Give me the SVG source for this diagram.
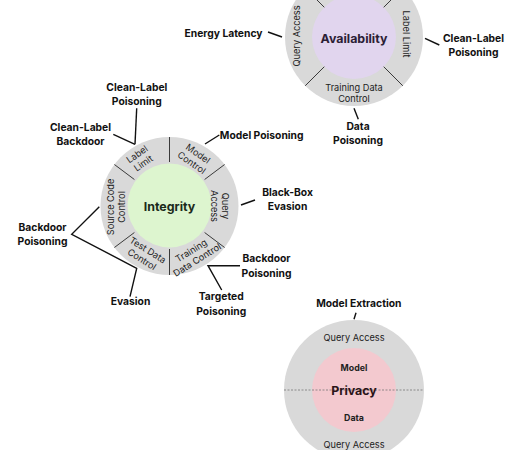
<svg xmlns="http://www.w3.org/2000/svg" width="530" height="450" viewBox="0 0 530 450">
<style>
.outer{fill:#d9d9d9}
.div{stroke:#3a3a3a;stroke-width:1}
.seg{font-family:Inter,"Liberation Sans",sans-serif;font-size:9.2px;fill:#222;text-anchor:middle;dominant-baseline:central}
.lbl{font-family:Inter,"Liberation Sans",sans-serif;font-size:10.3px;font-weight:700;fill:#111;text-anchor:middle;dominant-baseline:central}
.title{font-family:Inter,"Liberation Sans",sans-serif;font-size:12.4px;font-weight:700;text-anchor:middle;dominant-baseline:central}
.sub{font-family:Inter,"Liberation Sans",sans-serif;font-size:8.8px;font-weight:700;fill:#222;text-anchor:middle;dominant-baseline:central}
.con{stroke:#111;stroke-width:1.4;fill:none}
</style>
<rect width="530" height="450" fill="#ffffff"/>

<g id="availability">
<circle class="outer" cx="354" cy="37" r="69"/>
<circle cx="354" cy="37" r="42" fill="#e1d5ee"/>
<line class="div" x1="324.3" y1="7.3" x2="305.2" y2="-11.8"/>
<line class="div" x1="383.7" y1="7.3" x2="402.8" y2="-11.8"/>
<line class="div" x1="324.3" y1="66.7" x2="305.2" y2="85.8"/>
<line class="div" x1="383.7" y1="66.7" x2="402.8" y2="85.8"/>
<text class="title" x="354" y="38" fill="#2b2035">Availability</text>
<text class="seg" transform="translate(296,36) rotate(-90)">Query Access</text>
<text class="seg" transform="translate(406,34) rotate(90)">Label Limit</text>
<text class="seg" x="354" y="87">Training Data</text>
<text class="seg" x="354" y="98.5">Control</text>
</g>

<g id="integrity">
<circle class="outer" cx="169.5" cy="206" r="69"/>
<circle cx="169.5" cy="205.5" r="42" fill="#ddf5cf"/>
<line class="div" x1="169.5" y1="162" x2="169.5" y2="137"/>
<line class="div" x1="169.5" y1="249" x2="169.5" y2="275"/>
<line class="div" x1="204.6" y1="179.5" x2="224.6" y2="164.5"/>
<line class="div" x1="204.6" y1="232.5" x2="224.6" y2="247.5"/>
<line class="div" x1="134.4" y1="232.5" x2="114.4" y2="247.5"/>
<line class="div" x1="134.4" y1="179.5" x2="114.4" y2="164.5"/>
<text class="title" x="169.5" y="206" fill="#1b2a1b">Integrity</text>
<g transform="translate(140,158.5) rotate(-35)">
<text class="seg" x="0" y="-5.5">Label</text>
<text class="seg" x="0" y="5.5">Limit</text>
</g>
<g transform="translate(195,158) rotate(35)">
<text class="seg" x="0" y="-5.5">Model</text>
<text class="seg" x="0" y="5.5">Control</text>
</g>
<g transform="translate(219.5,206) rotate(90)">
<text class="seg" x="0" y="-5.5">Query</text>
<text class="seg" x="0" y="5.5">Access</text>
</g>
<g transform="translate(194,255) rotate(-32)">
<text class="seg" x="0" y="-5.5">Training</text>
<text class="seg" x="0" y="5.5">Data Control</text>
</g>
<g transform="translate(145,254.5) rotate(32)">
<text class="seg" x="0" y="-5.5">Test Data</text>
<text class="seg" x="0" y="5.5">Control</text>
</g>
<g transform="translate(115.5,207) rotate(-90)">
<text class="seg" x="0" y="-5.5">Source Code</text>
<text class="seg" x="0" y="5.5">Control</text>
</g>
</g>

<g id="privacy">
<circle class="outer" cx="354" cy="390" r="70"/>
<circle cx="354" cy="390" r="42" fill="#f3c9cf"/>
<line x1="284" y1="390" x2="424" y2="390" stroke="#777" stroke-width="0.8" stroke-dasharray="2,1.5"/>
<text class="seg" x="354" y="337">Query Access</text>
<text class="sub" x="354" y="367">Model</text>
<text class="title" x="354" y="390" fill="#2a1418">Privacy</text>
<text class="sub" x="354" y="417">Data</text>
<text class="seg" x="354" y="444">Query Access</text>
</g>

<g id="labels">
<text class="lbl" x="223.5" y="33">Energy Latency</text>
<text class="lbl" x="473.5" y="38.3">Clean-Label</text>
<text class="lbl" x="473.5" y="52.3">Poisoning</text>
<text class="lbl" x="358" y="126">Data</text>
<text class="lbl" x="358" y="140">Poisoning</text>
<text class="lbl" x="136.8" y="86.7">Clean-Label</text>
<text class="lbl" x="136.8" y="101">Poisoning</text>
<text class="lbl" x="80.5" y="126.7">Clean-Label</text>
<text class="lbl" x="80.5" y="141">Backdoor</text>
<text class="lbl" x="261.7" y="135">Model Poisoning</text>
<text class="lbl" x="287.5" y="191.7">Black-Box</text>
<text class="lbl" x="287.5" y="206">Evasion</text>
<text class="lbl" x="266.5" y="257.7">Backdoor</text>
<text class="lbl" x="266.5" y="272.5">Poisoning</text>
<text class="lbl" x="221.2" y="296">Targeted</text>
<text class="lbl" x="221.2" y="311">Poisoning</text>
<text class="lbl" x="42.5" y="226.7">Backdoor</text>
<text class="lbl" x="42.5" y="241.3">Poisoning</text>
<text class="lbl" x="130.5" y="301">Evasion</text>
<text class="lbl" x="358.8" y="302.7">Model Extraction</text>
</g>

<g id="connectors">
<line class="con" x1="268" y1="32" x2="282" y2="37"/>
<line class="con" x1="425" y1="38.3" x2="439.3" y2="45"/>
<line class="con" x1="354" y1="108.3" x2="358.3" y2="119.3"/>
<line class="con" x1="136.7" y1="108.3" x2="135" y2="144.3"/>
<line class="con" x1="113.3" y1="134.3" x2="135" y2="144.3"/>
<line class="con" x1="205" y1="144" x2="219.3" y2="135"/>
<line class="con" x1="241" y1="205" x2="255" y2="200"/>
<polyline class="con" points="240,265.7 208,265.7 221.7,290"/>
<polyline class="con" points="99.3,206.7 71.7,234.3 136.7,268.3 130,296.7"/>
<line class="con" x1="356" y1="312.7" x2="354" y2="319.3"/>
</g>
</svg>
